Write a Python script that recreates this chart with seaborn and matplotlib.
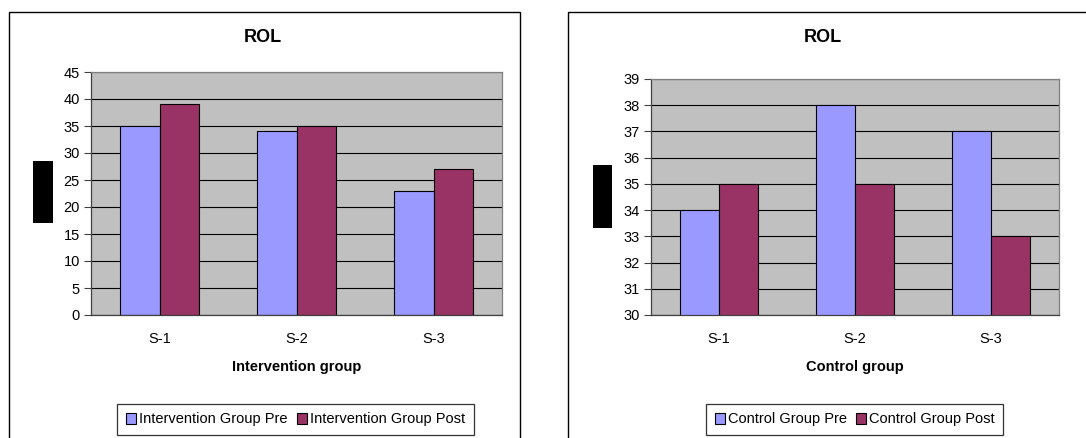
import matplotlib
matplotlib.use("Agg")
import matplotlib.pyplot as plt
import matplotlib.patches as mpatches
import seaborn as sns
import pandas as pd

sessions = ["S-1", "S-2", "S-3"]
int_pre = [35, 34, 23]
int_post = [39, 35, 27]
ctl_pre = [34, 38, 37]
ctl_post = [35, 35, 33]
int_labels = ["Intervention Group Pre", "Intervention Group Post"]
ctl_labels = ["Control Group Pre", "Control Group Post"]
int_yticks = list(range(0, 46, 5))
ctl_yticks = list(range(30, 40, 1))

sns.set_theme(style="white")
plt.rcParams['font.family'] = ['Liberation Sans', 'DejaVu Sans']
plt.rcParams['text.color'] = 'black'
plt.rcParams['axes.labelcolor'] = 'black'
plt.rcParams['xtick.labelcolor'] = 'black'
plt.rcParams['ytick.labelcolor'] = 'black'

W, H = 1086, 438
fig = plt.figure(figsize=(W / 100, H / 100), dpi=100)
fig.patch.set_facecolor("white")

colors = ["#9999FF", "#993366"]


def px_axes(l, t, r, b):
    return fig.add_axes([l / W, (H - b) / H, (r - l) / W, (b - t) / H])


def panel(box, frame, rect, pre, post, labels, yticks, xlabel, title_x, legend_box):
    fl, ft, fr, fb = frame
    fig.patches.append(mpatches.Rectangle((fl / W, (H - fb) / H), (fr - fl) / W, (fb - ft) / H,
                                          transform=fig.transFigure, fill=False,
                                          edgecolor="black", linewidth=1.0))
    rl, rt, rr, rb = rect
    fig.patches.append(mpatches.Rectangle((rl / W, (H - rb) / H), (rr - rl) / W, (rb - rt) / H,
                                          transform=fig.transFigure, facecolor="black",
                                          edgecolor="none"))
    ax = px_axes(*box)
    df = pd.DataFrame({
        "session": sessions * 2,
        "value": pre + post,
        "series": [labels[0]] * 3 + [labels[1]] * 3,
    })
    sns.barplot(data=df, x="session", y="value", hue="series", hue_order=labels,
                palette=colors, width=0.57, gap=0, edgecolor="black", linewidth=0.8,
                saturation=1, ax=ax, legend=True)
    ax.set_facecolor("#C0C0C0")
    ax.set_ylim(yticks[0], yticks[-1])
    ax.set_yticks(yticks)
    ax.yaxis.grid(True, color="black", linewidth=0.8)
    ax.set_axisbelow(True)
    ax.set_xlim(-0.5, 2.5)
    ax.set_xticks([0, 1, 2])
    ax.set_xticklabels(sessions)
    ax.set_xticks([-0.5, 0.5, 1.5, 2.5], minor=True)
    ax.tick_params(axis="x", which="major", length=0, pad=12, labelsize=10.5)
    ax.tick_params(axis="x", which="minor", length=5, direction="out", color="#404040", width=0.8)
    ax.tick_params(axis="y", length=5, direction="out", color="#404040", width=0.8,
                   labelsize=10.5, pad=3, left=True)
    for s in ax.spines.values():
        s.set_color("#808080")
        s.set_linewidth(0.9)
    ax.spines["left"].set_color("#404040")
    ax.spines["bottom"].set_color("#404040")
    ax.set_ylabel("")
    ax.set_xlabel(xlabel, fontsize=10.5, fontweight="bold", labelpad=10)
    fig.text(title_x / W, (H - 38) / H, "ROL", ha="center", va="center",
             fontsize=13, fontweight="bold")
    handles, _ = ax.get_legend_handles_labels()
    ax.get_legend().remove()
    ll, lt, lr, lb = legend_box
    leg = fig.legend(handles, labels, loc="center",
                     bbox_to_anchor=((ll + lr) / 2 / W, (H - (lt + lb) / 2) / H),
                     ncol=2, frameon=True, fancybox=False, fontsize=10.5,
                     handlelength=0.7, handleheight=0.7, handletextpad=0.2,
                     columnspacing=0.6, borderpad=0.6, borderaxespad=0)
    leg.get_frame().set_edgecolor("black")
    leg.get_frame().set_linewidth(0.9)
    return ax


panel((91, 72, 502, 315), (9, 12, 520, 445), (33, 161, 53, 223), int_pre, int_post,
      int_labels, int_yticks, "Intervention group", 263, (112, 404, 479, 435))
panel((651, 79, 1059, 315), (568, 12, 1095, 445), (593, 165, 612, 228), ctl_pre, ctl_post,
      ctl_labels, ctl_yticks, "Control group", 823, (697, 404, 1012, 435))

fig.savefig("out.png", dpi=100, facecolor="white")
